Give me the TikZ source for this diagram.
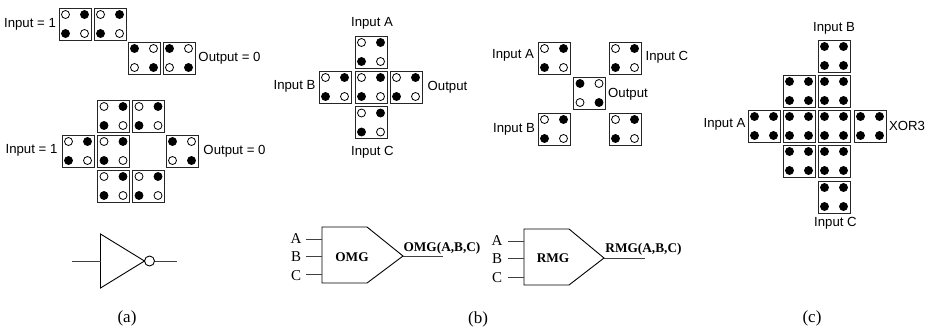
\documentclass[tikz,border=0pt]{standalone}
\usepackage{fontspec}
\setmainfont{Liberation Serif}
\setsansfont{Liberation Sans}
\tikzset{
    cellbox/.style={draw=black!85, line width=0.9pt, minimum size=32pt, inner sep=0pt, outer sep=0pt},
    sanslabel/.style={font=\sffamily\fontsize{13.2}{14}\selectfont, inner sep=0pt},
    gatelabel/.style={font=\bfseries\fontsize{13.3}{14}\selectfont, inner sep=0pt},
    pinlabel/.style={font=\fontsize{15}{16}\selectfont, inner sep=0pt},
    caption/.style={font=\fontsize{17}{18}\selectfont, inner sep=0pt},
    wire/.style={black!75, line width=0.9pt},
    body/.style={black, line width=0.9pt, line join=miter}
}
% dot pattern of one cell: #1 name, #2 centre, then fills of the four dots
\newcommand{\qcacell}[6]{
    \node[cellbox] (#1) at (#2) {};
    \filldraw[fill=#3, line width=0.8pt] ([shift={(-9.5,-9.5)}]#1.center) circle (4pt);
    \filldraw[fill=#4, line width=0.8pt] ([shift={(9.5,-9.5)}]#1.center) circle (4pt);
    \filldraw[fill=#5, line width=0.8pt] ([shift={(-9.5,9.5)}]#1.center) circle (4pt);
    \filldraw[fill=#6, line width=0.8pt] ([shift={(9.5,9.5)}]#1.center) circle (4pt);
}
\newcommand{\cellA}[2]{\qcacell{#1}{#2}{white}{black}{black}{white}}
\newcommand{\cellB}[2]{\qcacell{#1}{#2}{black}{white}{white}{black}}
\newcommand{\cellF}[2]{\qcacell{#1}{#2}{black}{black}{black}{black}}
\begin{document}
\begin{tikzpicture}[x=1pt, y=-1pt]
    \useasboundingbox (0, 0) rectangle (931, 333);

    % Wire
    \cellA{wa}{75, 24}
    \cellA{wb}{110, 24}
    \cellB{wc}{144, 58}
    \cellB{wd}{179, 58}
    \node[sanslabel] (winput) at (30, 24) {Input = 1};
    \node[sanslabel] (woutput) at (229.5, 58) {Output = 0};

    % Inverter
    \cellA{ia}{113.5, 116}
    \cellA{ib}{148.5, 116}
    \cellA{ic}{78, 151}
    \cellA{id}{113.5, 151}
    \cellB{ie}{182, 151}
    \cellA{if}{113.5, 186}
    \cellA{ig}{148.5, 186}
    \node[sanslabel] (iinput) at (31.5, 150) {Input = 1};
    \node[sanslabel] (ioutput) at (234.5, 151) {Output = 0};

    % Inverter symbol
    \coordinate (notin) at (72, 261);
    \coordinate (notleft) at (100.5, 261);
    \coordinate (notout) at (177, 261);
    \node[draw, circle, line width=0.9pt, minimum size=10pt, inner sep=0pt, outer sep=0pt] (notdot) at (149.5, 261) {};
    \draw[body] (100.5, 234) -- (100.5, 288) -- (notdot.west) -- cycle;
    \draw[wire] (notin) -- (notleft);
    \draw[wire] (notdot) -- (notout);
    \node[caption] (capa) at (127, 318) {(a)};

    % Original majority gate
    \cellA{oa}{371, 52}
    \cellA{ob}{335, 87}
    \cellA{oc}{371, 87}
    \cellA{od}{406, 87}
    \cellA{oe}{371, 122.5}
    \node[sanslabel] (oinputa) at (372, 23) {Input A};
    \node[sanslabel] (oinputb) at (294.5, 86) {Input B};
    \node[sanslabel] (ooutput) at (447.5, 87) {Output};
    \node[sanslabel] (oinputc) at (372.5, 152) {Input C};

    % Rotated majority gate
    \cellA{ra}{554, 58}
    \cellA{rb}{625, 58}
    \cellB{rc}{589.5, 93}
    \cellA{rd}{554, 129}
    \cellA{re}{625, 129}
    \node[sanslabel] (rinputa) at (513, 55) {Input A};
    \node[sanslabel] (rinputc) at (667, 57) {Input C};
    \node[sanslabel] (routput) at (628, 94) {Output};
    \node[sanslabel] (rinputb) at (514, 129) {Input B};

    % OMG symbol
    \coordinate (omgtl) at (322, 227);
    \coordinate (omgtr) at (367, 227);
    \coordinate (omgtip) at (403, 256);
    \coordinate (omgbr) at (367, 283);
    \coordinate (omgbl) at (322, 283);
    \draw[body] (omgtl) -- (omgtr) -- (omgtip) -- (omgbr) -- (omgbl) -- cycle;
    \node[pinlabel] (omga) at (296, 239) {A};
    \node[pinlabel] (omgb) at (296, 257) {B};
    \node[pinlabel] (omgc) at (296, 276) {C};
    \coordinate (omgaend) at (322, 239);
    \coordinate (omgbend) at (322, 256);
    \coordinate (omgcend) at (322, 274);
    \draw[wire] (306, 239) -- (omgaend);
    \draw[wire] (306, 256) -- (omgbend);
    \draw[wire] (306, 274) -- (omgcend);
    \coordinate (omgout) at (443, 256);
    \draw[wire] (omgtip) -- (omgout);
    \node[gatelabel] (omgname) at (352, 257) {OMG};
    \node[gatelabel] (omgresult) at (442, 248) {OMG(A,B,C)};

    % RMG symbol
    \coordinate (rmgtl) at (524, 229);
    \coordinate (rmgtr) at (569, 229);
    \coordinate (rmgtip) at (604, 258);
    \coordinate (rmgbr) at (569, 285);
    \coordinate (rmgbl) at (524, 285);
    \draw[body] (rmgtl) -- (rmgtr) -- (rmgtip) -- (rmgbr) -- (rmgbl) -- cycle;
    \node[pinlabel] (rmga) at (497, 241) {A};
    \node[pinlabel] (rmgb) at (497, 259) {B};
    \node[pinlabel] (rmgc) at (497, 278) {C};
    \coordinate (rmgaend) at (524, 241);
    \coordinate (rmgbend) at (524, 258);
    \coordinate (rmgcend) at (524, 277);
    \draw[wire] (508, 241) -- (rmgaend);
    \draw[wire] (508, 258) -- (rmgbend);
    \draw[wire] (508, 277) -- (rmgcend);
    \coordinate (rmgout) at (645, 258);
    \draw[wire] (rmgtip) -- (rmgout);
    \node[gatelabel] (rmgname) at (553, 258) {RMG};
    \node[gatelabel] (rmgresult) at (643.5, 249) {RMG(A,B,C)};
    \node[caption] (capb) at (478, 319) {(b)};

    % XOR3
    \cellF{xa}{834, 56}
    \cellF{xb}{799, 91}
    \cellF{xc}{834, 91}
    \cellF{xd}{764, 126}
    \cellF{xe}{799, 126}
    \cellF{xf}{834, 126}
    \cellF{xg}{870, 126}
    \cellF{xh}{799, 161}
    \cellF{xi}{834, 161}
    \cellF{xj}{834, 197}
    \node[sanslabel] (xinputb) at (834, 28) {Input B};
    \node[sanslabel] (xinputa) at (724.5, 124) {Input A};
    \node[sanslabel] (xoutput) at (907, 126) {XOR3};
    \node[sanslabel] (xinputc) at (835.5, 223) {Input C};
    \node[caption] (capc) at (812, 318) {(c)};

\end{tikzpicture}
\end{document}
